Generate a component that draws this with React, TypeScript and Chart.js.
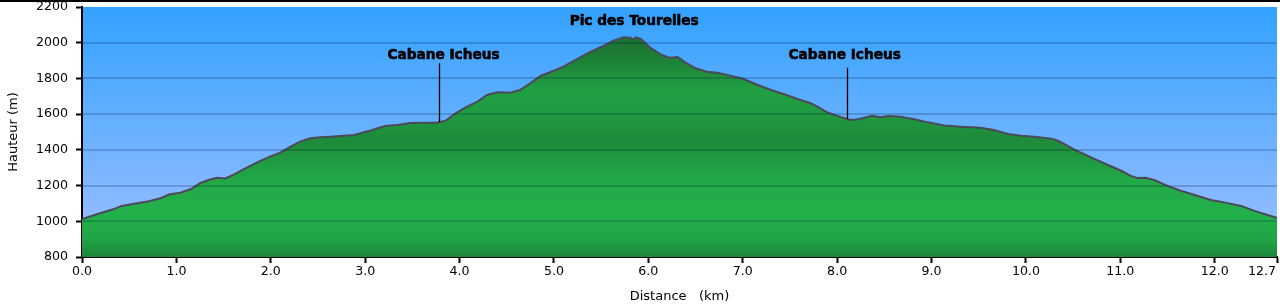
import { useEffect, useRef } from "react";
import { Chart, registerables } from "chart.js";

Chart.register(...registerables);

// ---- data ----
const distanceKm = [
  0.0, 0.19, 0.33, 0.42, 0.54, 0.72, 0.83, 0.93, 1.04, 1.15, 1.25, 1.34, 1.43, 1.52, 1.6, 1.71, 1.85, 1.99,
  2.1, 2.21, 2.31, 2.42, 2.52, 2.63, 2.88, 3.05, 3.21, 3.34, 3.48, 3.62, 3.76, 3.85, 3.97, 4.08, 4.19, 4.29,
  4.4, 4.54, 4.64, 4.75, 4.86, 5.0, 5.1, 5.21, 5.39, 5.53, 5.63, 5.74, 5.81, 5.84, 5.87, 5.92, 6.02, 6.13,
  6.22, 6.31, 6.39, 6.5, 6.62, 6.73, 6.87, 7.01, 7.16, 7.3, 7.44, 7.58, 7.72, 7.79, 7.88, 8.0, 8.11, 8.18,
  8.29, 8.37, 8.46, 8.55, 8.67, 8.82, 8.96, 9.13, 9.31, 9.52, 9.66, 9.81, 9.95, 10.09, 10.27, 10.34, 10.51,
  10.69, 10.87, 11.01, 11.11, 11.18, 11.27, 11.36, 11.5, 11.64, 11.78, 11.96, 12.1, 12.28, 12.42, 12.56, 12.66,
];
const elevationM = [
  1012, 1045, 1067, 1086, 1097, 1114, 1129, 1151, 1160, 1179, 1213, 1231, 1244, 1240, 1259, 1291, 1328, 1362,
  1384, 1418, 1446, 1465, 1470, 1474, 1483, 1507, 1534, 1539, 1550, 1552, 1552, 1563, 1608, 1642, 1670, 1707,
  1722, 1720, 1735, 1773, 1815, 1843, 1866, 1898, 1950, 1983, 2011, 2030, 2028, 2019, 2030, 2021, 1972, 1935,
  1916, 1920, 1890, 1857, 1838, 1832, 1815, 1797, 1763, 1735, 1711, 1685, 1661, 1642, 1614, 1590, 1571, 1567,
  1580, 1591, 1582, 1590, 1586, 1571, 1554, 1537, 1530, 1524, 1511, 1489, 1479, 1474, 1463, 1451, 1403,
  1358, 1315, 1283, 1254, 1242, 1244, 1231, 1198, 1171, 1149, 1119, 1106, 1086, 1058, 1035, 1020,
];

const xTickValues = [0, 1, 2, 3, 4, 5, 6, 7, 8, 9, 10, 11, 12, 12.66];
const xTickLabels = ["0.0", "1.0", "2.0", "3.0", "4.0", "5.0", "6.0", "7.0", "8.0", "9.0", "10.0", "11.0", "12.0", "12.7"];
const yMin = 800;
const yMax = 2200;
const yStep = 200;

const annotationTexts = ["Cabane Icheus", "Pic des Tourelles", "Cabane Icheus"];
const annotationTextKm = [3.83, 5.85, 8.08];
const annotationTextElev = [1928, 2118, 1930];
const annotationLineKm: (number | null)[] = [3.78, null, 8.1];
const annotationLineTopElev: (number | null)[] = [1885, null, 1860];

const xTitle = "Distance   (km)";
const yTitle = "Hauteur (m)";

const FONT = "'DejaVu Sans', Verdana, sans-serif";
const TICK_SIZE = 12.6;
const TITLE_SIZE = 13;

function elevationAt(km: number): number {
  for (let i = 1; i < distanceKm.length; i++) {
    if (km <= distanceKm[i]) {
      const t = (km - distanceKm[i - 1]) / (distanceKm[i] - distanceKm[i - 1]);
      return elevationM[i - 1] + t * (elevationM[i] - elevationM[i - 1]);
    }
  }
  return elevationM[elevationM.length - 1];
}

const backgroundPlugin = {
  id: "bgPlugin",
  beforeDraw(chart: any) {
    const { ctx, chartArea: a } = chart;
    ctx.save();
    ctx.fillStyle = "#ffffff";
    ctx.fillRect(0, 0, chart.width, chart.height);
    const g = ctx.createLinearGradient(0, a.top, 0, a.bottom);
    g.addColorStop(0, "rgb(51,162,255)");
    g.addColorStop(1, "rgb(160,192,255)");
    ctx.fillStyle = g;
    ctx.fillRect(a.left, a.top, a.right - a.left, a.bottom - a.top);
    ctx.restore();
  },
};

const gridOverPlugin = {
  id: "gridOver",
  afterDatasetsDraw(chart: any) {
    const { ctx, chartArea: a } = chart;
    const ys = chart.scales.y;
    ctx.save();
    ctx.strokeStyle = "rgba(0,20,60,0.2)";
    ctx.lineWidth = 2;
    ys.ticks.forEach((t: any) => {
      if (t.value <= yMin || t.value >= yMax) return;
      const y = Math.round(ys.getPixelForValue(t.value));
      ctx.beginPath();
      ctx.moveTo(a.left, y);
      ctx.lineTo(a.right, y);
      ctx.stroke();
    });
    ctx.restore();
  },
};

const overlayPlugin = {
  id: "overlay",
  afterDraw(chart: any) {
    const { ctx, chartArea: a } = chart;
    const xs = chart.scales.x;
    const ys = chart.scales.y;
    ctx.save();
    // top frame line
    ctx.strokeStyle = "#000";
    ctx.lineWidth = 2;
    ctx.beginPath();
    ctx.moveTo(0, 1);
    ctx.lineTo(chart.width, 1);
    ctx.stroke();

    // x tick labels
    ctx.fillStyle = "#000";
    ctx.font = `${TICK_SIZE}px ${FONT}`;
    ctx.textBaseline = "middle";
    xTickValues.forEach((v, i) => {
      const x = xs.getPixelForValue(v);
      const last = i === xTickValues.length - 1;
      ctx.textAlign = last ? "right" : "center";
      ctx.fillText(xTickLabels[i], last ? x - 1 : x, a.bottom + 15);
    });

    // annotations
    ctx.font = `bold 13.7px ${FONT}`;
    ctx.textAlign = "center";
    ctx.textBaseline = "middle";
    annotationTexts.forEach((txt, i) => {
      const tx = xs.getPixelForValue(annotationTextKm[i]);
      const ty = ys.getPixelForValue(annotationTextElev[i]);
      ctx.fillStyle = "#000";
      ctx.strokeStyle = "#000";
      ctx.lineWidth = 0.6;
      ctx.fillText(txt, tx, ty);
      ctx.strokeText(txt, tx, ty);
      const lk = annotationLineKm[i];
      const lt = annotationLineTopElev[i];
      if (lk != null && lt != null) {
        const x = Math.round(xs.getPixelForValue(lk)) + 0.5;
        ctx.strokeStyle = "#000";
        ctx.lineWidth = 1.3;
        ctx.beginPath();
        ctx.moveTo(x, ys.getPixelForValue(lt));
        ctx.lineTo(x, ys.getPixelForValue(elevationAt(lk)));
        ctx.stroke();
      }
    });
    ctx.restore();
  },
};

export default function App() {
  const ref = useRef<HTMLCanvasElement | null>(null);

  useEffect(() => {
    if (!ref.current) return;
    const points = distanceKm.map((d, i) => ({ x: d, y: elevationM[i] }));
    const chart = new Chart(ref.current, {
      type: "line",
      data: {
        datasets: [
          {
            data: points,
            borderColor: "#4a4a58",
            borderWidth: 2,
            pointRadius: 0,
            tension: 0,
            fill: "start",
            backgroundColor: (c: any) => {
              const area = c.chart.chartArea;
              if (!area) return "#22a545";
              const g = c.chart.ctx.createLinearGradient(0, area.top, 0, area.bottom);
              g.addColorStop(0.0, "#17602a");
              g.addColorStop(0.09, "#1a6a2d");
              g.addColorStop(0.21, "#1d8035");
              g.addColorStop(0.33, "#21a043");
              g.addColorStop(0.43, "#1f9a40");
              g.addColorStop(0.53, "#1e8a3a");
              g.addColorStop(0.59, "#1f963e");
              g.addColorStop(0.69, "#22a847");
              g.addColorStop(0.83, "#23b14b");
              g.addColorStop(0.93, "#21a446");
              g.addColorStop(1.0, "#1c8638");
              return g;
            },
          },
        ],
      },
      options: {
        responsive: false,
        animation: false,
        devicePixelRatio: 1,
        layout: { padding: { top: 0, right: 3, left: 0, bottom: 0 } },
        plugins: { legend: { display: false }, tooltip: { enabled: false } },
        scales: {
          x: {
            type: "linear",
            min: 0,
            max: xTickValues[xTickValues.length - 1],
            z: 1,
            afterBuildTicks: (s: any) => {
              s.ticks = xTickValues.map((v) => ({ value: v }));
            },
            afterFit: (s: any) => {
              s.height = 50;
              s.paddingLeft = 0;
              s.paddingRight = 0;
            },
            ticks: { display: false },
            grid: {
              drawOnChartArea: false,
              drawTicks: true,
              tickLength: 6,
              tickColor: "#000",
              tickWidth: 2,
            },
            border: { display: true, color: "#000", width: 2 },
            title: {
              display: true,
              text: xTitle,
              color: "#000",
              font: { family: FONT, size: TITLE_SIZE },
              padding: { top: 0, bottom: 3 },
            },
          },
          y: {
            min: yMin,
            max: yMax,
            z: 1,
            afterFit: (s: any) => {
              s.width = 82;
              s.paddingTop = 7;
              s.paddingBottom = 0;
            },
            ticks: {
              stepSize: yStep,
              color: "#000",
              padding: 8,
              font: { family: FONT, size: TICK_SIZE },
              callback: (v: any) => String(v),
            },
            grid: {
              drawOnChartArea: false,
              drawTicks: true,
              tickLength: 6,
              tickColor: "#000",
              tickWidth: 2,
            },
            border: { display: true, color: "#000", width: 2 },
            title: {
              display: true,
              text: yTitle,
              color: "#000",
              font: { family: FONT, size: TITLE_SIZE },
              padding: { top: 6, bottom: 0 },
            },
          },
        },
      },
      plugins: [backgroundPlugin, gridOverPlugin, overlayPlugin],
    } as any);
    return () => chart.destroy();
  }, []);

  return (
    <canvas
      ref={ref}
      width={1280}
      height={307}
      style={{ position: "absolute", left: 0, top: 0, display: "block", width: 1280, height: 307 }}
    />
  );
}
